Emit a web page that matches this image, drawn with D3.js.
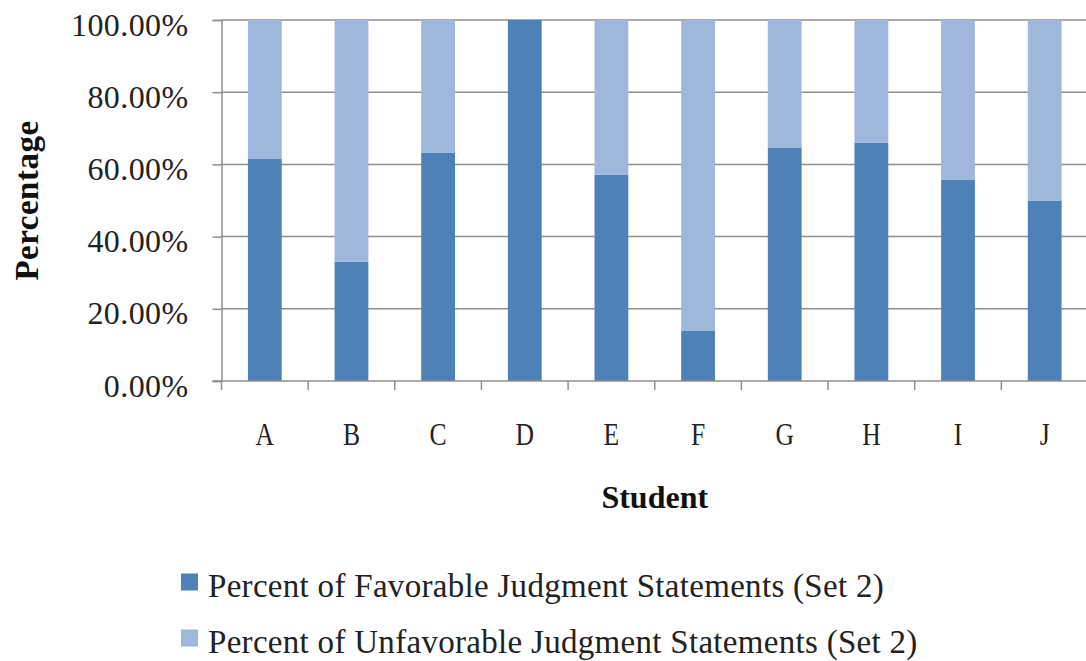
<!DOCTYPE html>
<html>
<head>
<meta charset="utf-8">
<script src="https://cdn.jsdelivr.net/npm/d3@7"></script>
<style>
  html, body { margin: 0; padding: 0; background: #fff; }
  svg { display: block; }
</style>
</head>
<body>
<svg id="chart" width="1086" height="661"></svg>
<script>
// Students and the share of favorable / unfavorable judgment statements (Set 2)
const students = ["A", "B", "C", "D", "E", "F", "G", "H", "I", "J"];
const favorable = [0.615, 0.33, 0.633, 1.0, 0.571, 0.14, 0.647, 0.66, 0.557, 0.50];
const unfavorable = favorable.map(v => 1 - v);
const seriesNames = [
  "Percent of Favorable Judgment Statements (Set 2)",
  "Percent of Unfavorable Judgment Statements (Set 2)"
];
const yTicks = [0, 0.2, 0.4, 0.6, 0.8, 1.0];

const colors = ["#4f81b9", "#a0b7dc"];
const serif = "'Liberation Serif', 'DejaVu Serif', serif";

const svg = d3.select("#chart");
const plotLeft = 221.5, plotRight = 1088, plotTop = 20, plotBottom = 381;

const x = d3.scaleBand()
  .domain(students)
  .range([plotLeft, plotRight])
  .paddingInner(0.61)
  .paddingOuter(0.305);

const y = d3.scaleLinear().domain([0, 1]).range([plotBottom, plotTop]);

// Horizontal gridlines
svg.append("g")
  .selectAll("line")
  .data(yTicks.slice(1))
  .join("line")
  .attr("x1", plotLeft).attr("x2", plotRight)
  .attr("y1", d => y(d)).attr("y2", d => y(d))
  .attr("stroke", "#8f8f8f")
  .attr("stroke-width", 1.5);

// Stacked bars
const rows = students.map((s, i) => ({ student: s, fav: favorable[i], unfav: unfavorable[i] }));
const stack = d3.stack().keys(["fav", "unfav"])(rows);

svg.append("g")
  .selectAll("g")
  .data(stack)
  .join("g")
  .attr("fill", (d, i) => colors[i])
  .selectAll("rect")
  .data(d => d)
  .join("rect")
  .attr("x", d => x(d.data.student))
  .attr("width", x.bandwidth())
  .attr("y", d => y(d[1]))
  .attr("height", d => Math.max(0, y(d[0]) - y(d[1])));

// Y axis
const yAxis = d3.axisLeft(y)
  .tickValues(yTicks)
  .tickFormat(d => (d * 100).toFixed(2) + "%")
  .tickSize(9)
  .tickPadding(24);

const gy = svg.append("g")
  .attr("transform", `translate(${plotLeft},0)`)
  .call(yAxis);
gy.select(".domain").attr("stroke", "#8f8f8f").attr("stroke-width", 1.5);
gy.selectAll(".tick line").attr("stroke", "#8f8f8f").attr("stroke-width", 1.5);
gy.selectAll(".tick text")
  .attr("fill", "#222")
  .attr("dy", "0.47em")
  .style("font-family", serif)
  .style("font-size", "32px")
  .style("letter-spacing", "0.4px");

// X axis: baseline with ticks at category boundaries
const gx = svg.append("g");
gx.append("line")
  .attr("x1", plotLeft - 9).attr("x2", plotRight)
  .attr("y1", plotBottom).attr("y2", plotBottom)
  .attr("stroke", "#8f8f8f").attr("stroke-width", 1.5);
const halfGap = x.step() * x.paddingInner() / 2;
const boundaries = students.map(s => x(s) - halfGap)
  .concat([x(students[students.length - 1]) + x.bandwidth() + halfGap]);
gx.selectAll("line.b")
  .data(boundaries)
  .join("line")
  .attr("class", "b")
  .attr("x1", d => d).attr("x2", d => d)
  .attr("y1", plotBottom).attr("y2", plotBottom + 9)
  .attr("stroke", "#8f8f8f").attr("stroke-width", 1.5);

gx.selectAll("text")
  .data(students)
  .join("text")
  .attr("transform", d => `translate(${x(d) + x.bandwidth() / 2},445) scale(0.8,1)`)
  .attr("text-anchor", "middle")
  .attr("fill", "#222")
  .style("font-family", serif)
  .style("font-size", "32px")
  .text(d => d);

// Axis titles
svg.append("text")
  .attr("x", (plotLeft + plotRight) / 2)
  .attr("y", 508)
  .attr("text-anchor", "middle")
  .attr("fill", "#111")
  .style("font-family", serif)
  .style("font-weight", "bold")
  .style("font-size", "32px")
  .text("Student");

svg.append("text")
  .attr("transform", `translate(38,${(plotTop + plotBottom) / 2}) rotate(-90)`)
  .attr("text-anchor", "middle")
  .attr("fill", "#111")
  .style("font-family", serif)
  .style("font-weight", "bold")
  .style("font-size", "33px")
  .style("letter-spacing", "0.5px")
  .text("Percentage");

// Legend
const legend = svg.append("g")
  .selectAll("g")
  .data(seriesNames)
  .join("g")
  .attr("transform", (d, i) => `translate(181,${573.5 + i * 56})`);
legend.append("rect")
  .attr("width", 17).attr("height", 17)
  .attr("fill", (d, i) => colors[i]);
legend.append("text")
  .attr("x", 27)
  .attr("y", 23.5)
  .attr("fill", "#222")
  .style("font-family", serif)
  .style("font-size", "33px")
  .style("letter-spacing", "0.3px")
  .text(d => d);
</script>
</body>
</html>
